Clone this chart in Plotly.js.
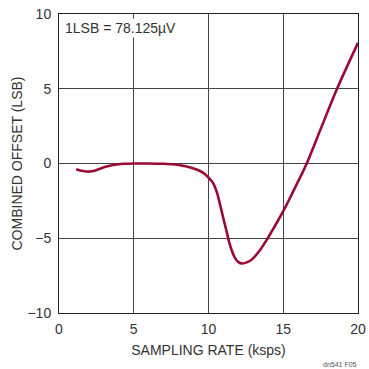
<!DOCTYPE html>
<html><head><meta charset="utf-8">
<script src="https://cdn.plot.ly/plotly-3.0.1.min.js"></script>
<style>html,body{margin:0;padding:0;background:#fff}#c{width:369px;height:369px}</style>
</head><body><div id="c"></div>
<script>
var rateKsps = [1.15, 1.6, 2.05, 2.5, 2.96, 3.4, 3.86, 4.4, 5.0, 6.0, 7.0, 7.5, 8.0, 8.54, 9.0, 9.43, 9.75, 10.0, 10.3, 10.55, 10.8, 11.0, 11.2, 11.45, 11.77, 12.0, 12.25, 12.6, 12.9, 13.4, 13.9, 14.4, 15.0, 15.6, 16.12, 16.57, 17.5, 18.6, 20.0];
var offsetLsb = [-0.38, -0.5, -0.54, -0.44, -0.27, -0.15, -0.07, -0.02, 0.0, 0.0, -0.02, -0.05, -0.1, -0.2, -0.33, -0.5, -0.7, -0.94, -1.3, -1.9, -2.86, -3.7, -4.5, -5.5, -6.31, -6.6, -6.69, -6.6, -6.42, -5.85, -5.1, -4.25, -3.19, -2.0, -0.95, 0.0, 2.3, 5.0, 8.07];
var xTicks = [0, 5, 10, 15, 20];
var yTicks = [-10, -5, 0, 5, 10];
var fontFam = '"Liberation Sans Narrow", "Liberation Sans", Arial, sans-serif';
var trace = {x: rateKsps, y: offsetLsb, mode: 'lines', line: {color: '#9a0a33', width: 2.6, shape: 'spline', smoothing: 1}, hoverinfo: 'none'};
var ax = {showline: true, linecolor: '#222', linewidth: 1, mirror: true, showgrid: true, gridcolor: '#444', gridwidth: 1, zeroline: false, ticks: '', tickfont: {size: 14, color: '#333', family: fontFam}};
var layout = {
  width: 369, height: 369,
  margin: {l: 59, r: 11, t: 14, b: 56},
  paper_bgcolor: '#fff', plot_bgcolor: '#fff',
  showlegend: false,
  font: {family: fontFam, color: '#333'},
  xaxis: Object.assign({}, ax, {range: [0, 20], tickvals: xTicks, ticktext: xTicks.map(String), ticklabelstandoff: 3, title: {text: 'SAMPLING RATE (ksps)', font: {size: 14, color: '#333', family: fontFam}, standoff: 9}}),
  yaxis: Object.assign({}, ax, {range: [-10, 10], tickvals: yTicks, ticktext: yTicks.map(function(v){return v<0?'\u2212'+Math.abs(v):String(v);}), ticklabelstandoff: 4, title: {text: 'COMBINED OFFSET (LSB)', font: {size: 14, color: '#333', family: fontFam}, standoff: 1}}),
  annotations: [
    {text: '1LSB = 78.125\u00b5V', xref: 'paper', yref: 'paper', x: 0.012, y: 0.988, xanchor: 'left', yanchor: 'top', showarrow: false, font: {size: 14, color: '#333', family: fontFam}, bgcolor: '#fff', borderpad: 1},
    {text: 'dn541 F05', xref: 'paper', yref: 'paper', x: 1.0, y: -0.157, xanchor: 'right', yanchor: 'top', showarrow: false, font: {size: 7, color: '#555', family: fontFam}, borderpad: 0}
  ]
};
Plotly.newPlot('c', [trace], layout, {staticPlot: true, displayModeBar: false});
</script></body></html>
